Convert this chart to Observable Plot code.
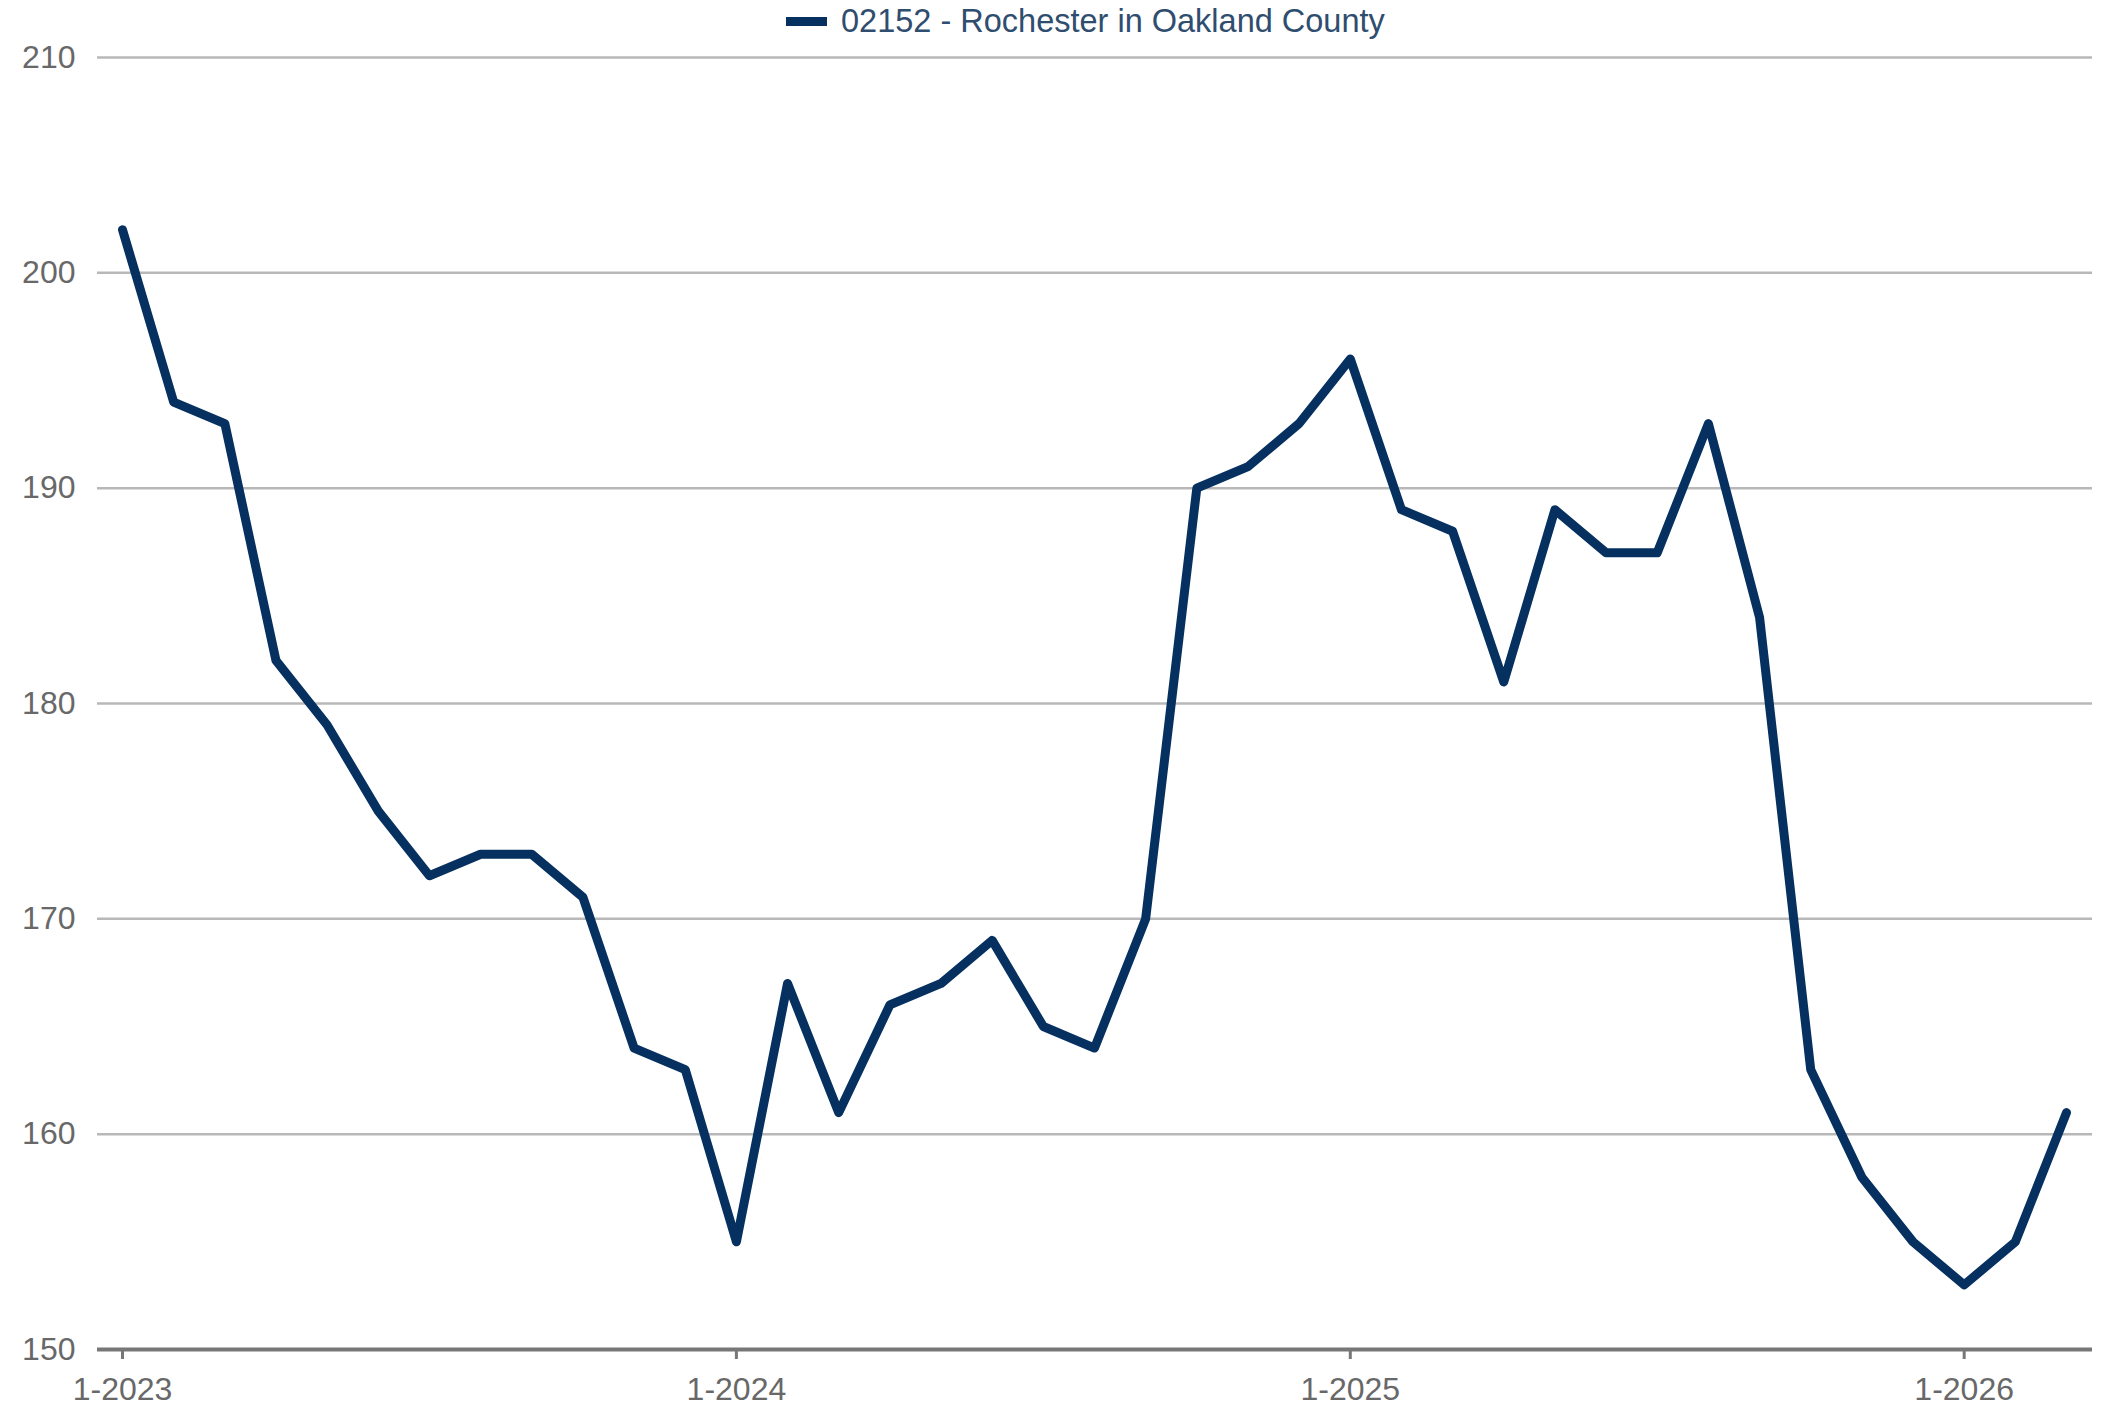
<!DOCTYPE html>
<html>
<head>
<meta charset="utf-8">
<script src="https://cdn.jsdelivr.net/npm/d3@7"></script>
<script src="https://cdn.jsdelivr.net/npm/@observablehq/plot@0.6"></script>
<style>
  html, body { margin: 0; padding: 0; background: #ffffff; }
  body { font-family: "Liberation Sans", Arial, sans-serif; width: 2103px; }
  #legend { position: relative; height: 40px; }
  #legend .sw { position: absolute; left: 786px; top: 17px; width: 41px; height: 9px; background: #06305f; }
  #legend .lt { position: absolute; left: 841px; top: 2px; font-size: 32.5px; line-height: 38px; color: #2f4d6f; white-space: nowrap; }
  #chart svg { display: block; }
</style>
</head>
<body>
<div id="legend"><span class="sw"></span><span class="lt">02152 - Rochester in Oakland County</span></div>
<div id="chart"></div>
<script>
const seriesName = "02152 - Rochester in Oakland County";
const months = [
  "1-2023","2-2023","3-2023","4-2023","5-2023","6-2023","7-2023","8-2023","9-2023","10-2023","11-2023","12-2023",
  "1-2024","2-2024","3-2024","4-2024","5-2024","6-2024","7-2024","8-2024","9-2024","10-2024","11-2024","12-2024",
  "1-2025","2-2025","3-2025","4-2025","5-2025","6-2025","7-2025","8-2025","9-2025","10-2025","11-2025","12-2025",
  "1-2026","2-2026","3-2026"
];
const values = [
  202, 194, 193, 182, 179, 175, 172, 173, 173, 171, 164, 163,
  155, 167, 161, 166, 167, 169, 165, 164, 170, 190, 191, 193,
  196, 189, 188, 181, 189, 187, 187, 193, 184, 163, 158, 155,
  153, 155, 161
];
const yTicks = [150, 160, 170, 180, 190, 200, 210];
const xTickLabels = ["1-2023", "1-2024", "1-2025", "1-2026"];

const data = months.map((m, i) => ({ idx: i, month: m, value: values[i] }));
const xTickIdx = xTickLabels.map(l => months.indexOf(l));

const chart = Plot.plot({
  width: 2103,
  height: 1368,
  marginLeft: 97,
  marginRight: 11,
  marginTop: 17,
  marginBottom: 59,
  style: { fontFamily: '"Liberation Sans", Arial, sans-serif', fontSize: "32px", background: "#ffffff", color: "#666666" },
  x: { type: "linear", domain: [0, months.length - 1], insetLeft: 25, insetRight: 26 },
  y: { domain: [150, 210] },
  marks: [
    Plot.ruleY(yTicks.filter(v => v > 150), { stroke: "#b8b8b8", strokeWidth: 2.5 }),
    Plot.axisY(yTicks, { tickSize: 0, tickPadding: 22, fontSize: 32, fill: "#686868", label: null }),
    Plot.ruleY([150], { stroke: "#777777", strokeWidth: 4 }),
    Plot.axisX(xTickIdx, {
      tickSize: 10, tickPadding: 18, stroke: "#777777", strokeWidth: 3, fill: "#686868", fontSize: 32, label: null,
      tickFormat: i => months[i]
    }),
    Plot.line(data, { x: "idx", y: "value", stroke: "#06305f", strokeWidth: 9, strokeLinejoin: "round", strokeLinecap: "round" })
  ]
});
document.getElementById("chart").appendChild(chart);
</script>
</body>
</html>
